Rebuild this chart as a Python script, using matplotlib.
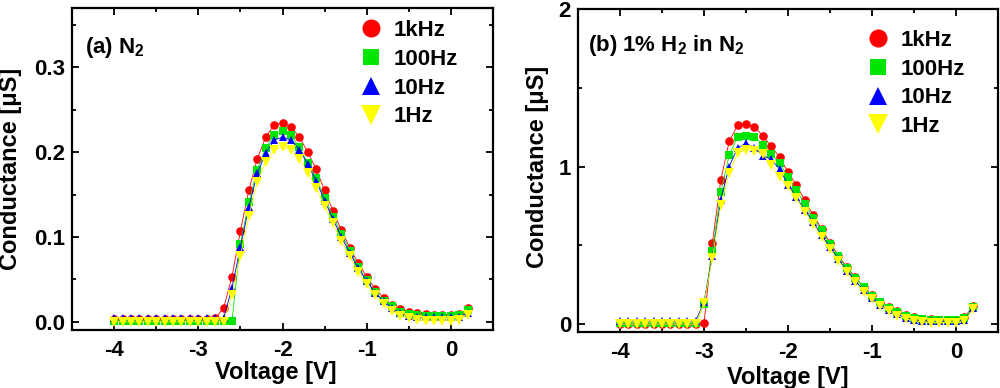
import matplotlib
matplotlib.use("Agg")
import matplotlib.pyplot as plt
from matplotlib.lines import Line2D
from matplotlib.ticker import MultipleLocator, FixedLocator

plt.rcParams['font.family'] = ['Liberation Sans', 'DejaVu Sans']
plt.rcParams['font.weight'] = 'bold'
plt.rcParams['mathtext.default'] = 'regular'

# ---------------- data ----------------
voltage = [-4.0, -3.9, -3.8, -3.7, -3.6, -3.5, -3.4, -3.3, -3.2, -3.1,
           -3.0, -2.9, -2.8, -2.7, -2.6, -2.5, -2.4, -2.3, -2.2, -2.1,
           -2.0, -1.9, -1.8, -1.7, -1.6, -1.5, -1.4, -1.3, -1.2, -1.1,
           -1.0, -0.9, -0.8, -0.7, -0.6, -0.5, -0.4, -0.3, -0.2, -0.1,
           0.0, 0.1, 0.2]

labels = ['1kHz', '100Hz', '10Hz', '1Hz']

# (a) N2
a_1kHz = [0.003, 0.003, 0.003, 0.003, 0.003, 0.003, 0.003, 0.003, 0.003, 0.003,
          0.003, 0.003, 0.004, 0.016, 0.053, 0.107, 0.155, 0.192, 0.218, 0.232,
          0.235, 0.230, 0.218, 0.200, 0.180, 0.155, 0.131, 0.108, 0.087, 0.069,
          0.053, 0.039, 0.028, 0.020, 0.015, 0.011, 0.010, 0.009, 0.008, 0.008,
          0.008, 0.009, 0.016]
a_100Hz = [0.001, 0.001, 0.001, 0.001, 0.001, 0.001, 0.001, 0.001, 0.001, 0.001,
           0.001, 0.001, 0.001, 0.001, 0.001, 0.092, 0.141, 0.179, 0.205, 0.220,
           0.225, 0.220, 0.206, 0.187, 0.169, 0.146, 0.124, 0.104, 0.084, 0.065,
           0.049, 0.035, 0.025, 0.018, 0.012, 0.009, 0.008, 0.007, 0.007, 0.007,
           0.007, 0.008, 0.014]
a_10Hz = [0.004, 0.004, 0.004, 0.004, 0.004, 0.004, 0.004, 0.004, 0.004, 0.004,
          0.004, 0.004, 0.004, 0.004, 0.040, 0.088, 0.135, 0.175, 0.199, 0.214,
          0.218, 0.214, 0.203, 0.186, 0.166, 0.143, 0.121, 0.100, 0.081, 0.063,
          0.048, 0.034, 0.024, 0.016, 0.010, 0.007, 0.005, 0.005, 0.005, 0.005,
          0.005, 0.006, 0.010]
a_1Hz = [0.000, 0.000, 0.000, 0.000, 0.000, 0.000, 0.000, 0.000, 0.000, 0.000,
         0.000, 0.000, 0.000, 0.000, 0.031, 0.078, 0.125, 0.165, 0.188, 0.203,
         0.206, 0.203, 0.192, 0.176, 0.158, 0.137, 0.116, 0.095, 0.077, 0.059,
         0.044, 0.031, 0.021, 0.013, 0.007, 0.004, 0.002, 0.001, 0.001, 0.001,
         0.001, 0.002, 0.008]

# (b) 1% H2 in N2
b_1kHz = [0.000, 0.000, 0.000, 0.000, 0.000, 0.000, 0.000, 0.000, 0.000, 0.000,
          0.005, 0.515, 0.915, 1.160, 1.262, 1.270, 1.252, 1.196, 1.128, 1.060,
          0.964, 0.883, 0.787, 0.691, 0.606, 0.517, 0.436, 0.362, 0.298, 0.238,
          0.185, 0.143, 0.111, 0.081, 0.057, 0.043, 0.036, 0.032, 0.030, 0.028,
          0.028, 0.043, 0.115]
b_100Hz = [0.005, 0.005, 0.005, 0.005, 0.005, 0.005, 0.005, 0.005, 0.005, 0.005,
           0.130, 0.464, 0.836, 1.074, 1.187, 1.196, 1.187, 1.138, 1.081, 1.021,
           0.936, 0.851, 0.762, 0.677, 0.596, 0.506, 0.430, 0.355, 0.291, 0.234,
           0.181, 0.138, 0.106, 0.079, 0.055, 0.040, 0.032, 0.028, 0.025, 0.024,
           0.024, 0.038, 0.110]
b_10Hz = [0.020, 0.020, 0.020, 0.020, 0.020, 0.020, 0.020, 0.020, 0.020, 0.020,
          0.140, 0.430, 0.790, 1.000, 1.120, 1.148, 1.120, 1.070, 1.045, 0.985,
          0.885, 0.805, 0.722, 0.648, 0.563, 0.489, 0.413, 0.340, 0.275, 0.215,
          0.168, 0.125, 0.090, 0.062, 0.042, 0.028, 0.022, 0.020, 0.020, 0.020,
          0.020, 0.025, 0.100]
b_1Hz = [0.000, 0.000, 0.000, 0.000, 0.000, 0.000, 0.000, 0.000, 0.000, 0.000,
         0.135, 0.420, 0.755, 0.962, 1.085, 1.106, 1.100, 1.078, 1.010, 0.935,
         0.875, 0.798, 0.713, 0.638, 0.553, 0.479, 0.404, 0.330, 0.266, 0.206,
         0.160, 0.117, 0.081, 0.053, 0.035, 0.022, 0.015, 0.010, 0.010, 0.010,
         0.010, 0.018, 0.095]

colors = ['#ff0000', '#00e600', '#0000ff', '#ffff00']
markers = ['o', 's', '^', 'v']
msizes = [6.2, 5.8, 6.4, 6.8]

fig = plt.figure(figsize=(10, 3.88), dpi=100)
axA = fig.add_axes([0.072, 0.149, 0.421, 0.830])
axB = fig.add_axes([0.578, 0.144, 0.420, 0.833])


def draw(ax, series, ylim, ymajor, yminor, yfmt, title, title_xy, leg_xy):
    for y, c, m, s in zip(series, colors, markers, msizes):
        ax.plot(voltage, y, color=c, lw=0.6, marker=m, ms=s, mec=c, mew=0)
    ax.set_xlim(-4.5, 0.5)
    ax.set_ylim(*ylim)
    ax.xaxis.set_major_locator(MultipleLocator(1))
    ax.xaxis.set_minor_locator(MultipleLocator(0.5))
    ax.yaxis.set_major_locator(FixedLocator(ymajor))
    ax.yaxis.set_minor_locator(MultipleLocator(yminor))
    ax.set_yticklabels([yfmt.format(v) for v in ymajor])
    ax.set_xticklabels(['{:g}'.format(v) for v in ax.get_xticks()])
    ax.tick_params(which='both', direction='in', top=True, right=True,
                   width=1.3, labelsize=16)
    ax.tick_params(which='major', length=5)
    ax.tick_params(which='minor', length=3)
    ax.tick_params(axis='x', pad=7)
    ax.tick_params(axis='y', pad=5)
    for sp in ax.spines.values():
        sp.set_linewidth(1.6)
    ax.set_xlabel('Voltage [V]', fontsize=17, fontweight='bold')
    ax.set_ylabel('Conductance [\u03bcS]', fontsize=17, fontweight='bold')
    ax.text(title_xy[0], title_xy[1], title, transform=ax.transAxes,
            fontsize=16, fontweight='bold', ha='left', va='baseline')
    handles = [Line2D([], [], ls='none', marker=m, color=c, mew=0, ms=s)
               for c, m, s in zip(colors, markers, msizes)]
    ax.legend(handles, labels, loc='upper left', bbox_to_anchor=leg_xy,
              frameon=False, markerscale=2.1, handlelength=1.0,
              handletextpad=0.5, labelspacing=0.35, borderpad=0,
              borderaxespad=0, prop={'size': 16, 'weight': 'bold'})


draw(axA, [a_1kHz, a_100Hz, a_10Hz, a_1Hz], (-0.01, 0.37),
     [0.0, 0.1, 0.2, 0.3], 0.05, '{:.1f}', '(a) N$_2$', (0.031, 0.86),
     (0.684, 0.963))
draw(axB, [b_1kHz, b_100Hz, b_10Hz, b_1Hz], (-0.05, 2.0),
     [0, 1, 2], 0.5, '{:d}', '(b) 1% H$_2$ in N$_2$', (0.024, 0.87),
     (0.688, 0.935))

axA.yaxis.set_label_coords(-0.118, 0.5)
axB.yaxis.set_label_coords(-0.068, 0.51)
axA.xaxis.set_label_coords(0.485, -0.097)
axB.xaxis.set_label_coords(0.5, -0.104)

fig.savefig('out.png', dpi=100)
